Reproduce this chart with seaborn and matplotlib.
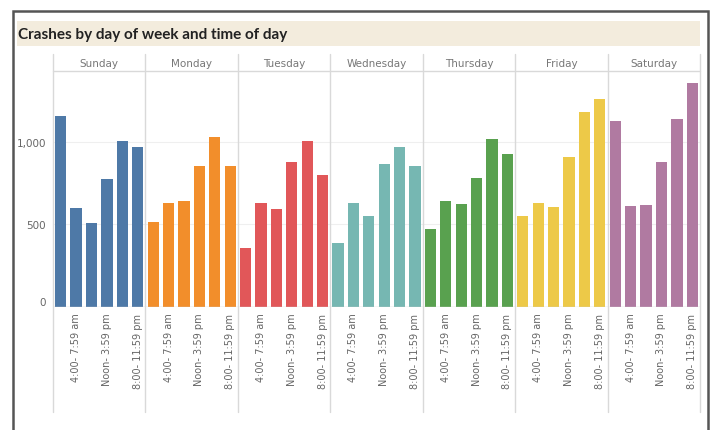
import matplotlib
matplotlib.use("Agg")
import matplotlib.pyplot as plt
from matplotlib.patches import Rectangle
from matplotlib.lines import Line2D
import seaborn as sns
import pandas as pd

days = ["Sunday", "Monday", "Tuesday", "Wednesday", "Thursday", "Friday", "Saturday"]
slots = ["Midnight- 3:59 am", "4:00- 7:59 am", "8:00- 11:59 am",
         "Noon- 3:59 pm", "4:00- 7:59 pm", "8:00- 11:59 pm"]
sunday = [1159, 600, 509, 776, 1006, 968]
monday = [513, 630, 642, 856, 1032, 856]
tuesday = [358, 630, 594, 881, 1006, 802]
wednesday = [386, 630, 553, 869, 968, 855]
thursday = [471, 641, 624, 782, 1016, 927]
friday = [552, 630, 604, 911, 1180, 1261]
saturday = [1129, 614, 620, 881, 1139, 1356]
colors = ["#4e79a7", "#f28e2b", "#e15759", "#76b7b2", "#59a14f", "#edc948", "#b07aa1"]
ytick_vals = [0, 500, 1000]
ytick_labels = ["0", "500", "1,000"]

values = [sunday, monday, tuesday, wednesday, thursday, friday, saturday]
rows = []
for d, vals in zip(days, values):
    for s, v in zip(slots, vals):
        rows.append({"day": d, "slot": s, "crashes": v})
df = pd.DataFrame(rows)

sns.set_style("white")
plt.rcParams["font.family"] = ["DejaVu Sans"]

W, H = 711, 431
fig = plt.figure(figsize=(W / 100, H / 100), dpi=100)

def fx(px):
    return px / W

def fy(py):
    return 1 - py / H

# outer border
fig.patches.append(Rectangle((fx(13), fy(440)), fx(708) - fx(13), fy(12) - fy(440),
                             transform=fig.transFigure, fill=False,
                             edgecolor="#555555", linewidth=1.8, zorder=0))
# title band
fig.patches.append(Rectangle((fx(17), fy(47)), fx(700) - fx(17), fy(22) - fy(47),
                             transform=fig.transFigure, facecolor="#f3ecdd",
                             edgecolor="none", zorder=0))
fig.text(fx(18), fy(35), "Crashes by day of week and time of day", fontsize=11,
         fontweight="bold", family=["Lato", "DejaVu Sans"], color="#222222",
         va="center", ha="left")

left, right = 53, 700
top_px, base_px = 72, 308
pw = (right - left) / len(days)
line_col = "#d9d9d9"

for i, d in enumerate(days):
    x0 = left + i * pw
    ax = fig.add_axes([fx(x0), fy(base_px), pw / W, (base_px - top_px) / H])
    sub = df[df["day"] == d]
    for g in [500, 1000]:
        ax.axhline(g, color="#efefef", lw=0.8, zorder=0)
    sns.barplot(data=sub, x="slot", y="crashes", order=slots, color=colors[i],
                saturation=1, width=0.73, ax=ax, edgecolor="none", zorder=2)
    ax.set_xlim(-0.5, 5.5)
    ax.set_ylim(0, 1430)
    ax.set_xlabel("")
    ax.set_ylabel("")
    for sp in ax.spines.values():
        sp.set_visible(False)
    ax.axhline(0, color="#cfcfcf", lw=1, zorder=3)
    ax.set_xticks(range(len(slots)))
    ax.set_xticklabels([s if k % 2 == 1 else "" for k, s in enumerate(slots)],
                       rotation=90, fontsize=7, color="#666666", va="top")
    ax.tick_params(axis="x", length=0, pad=4)
    ax.set_yticks(ytick_vals)
    if i == 0:
        ax.set_yticklabels(ytick_labels, fontsize=7.5, color="#666666")
        ax.tick_params(axis="y", length=0, pad=5)
        ax.get_yticklabels()[0].set_va("bottom")
    else:
        ax.set_yticklabels([])
        ax.tick_params(axis="y", length=0)
    ax.patch.set_alpha(0)
    fig.text(fx(x0 + pw / 2), fy(64), d, fontsize=7.5, color="#777777",
             ha="center", va="center")

# panel separators
for i in range(len(days) + 1):
    xx = left + i * pw
    fig.add_artist(Line2D([fx(xx), fx(xx)], [fy(55), fy(413)], color=line_col,
                          lw=1, transform=fig.transFigure, zorder=1))
fig.add_artist(Line2D([fx(left), fx(right)], [fy(top_px), fy(top_px)], color=line_col,
                      lw=1, transform=fig.transFigure, zorder=1))

fig.savefig("out.png", dpi=100)
